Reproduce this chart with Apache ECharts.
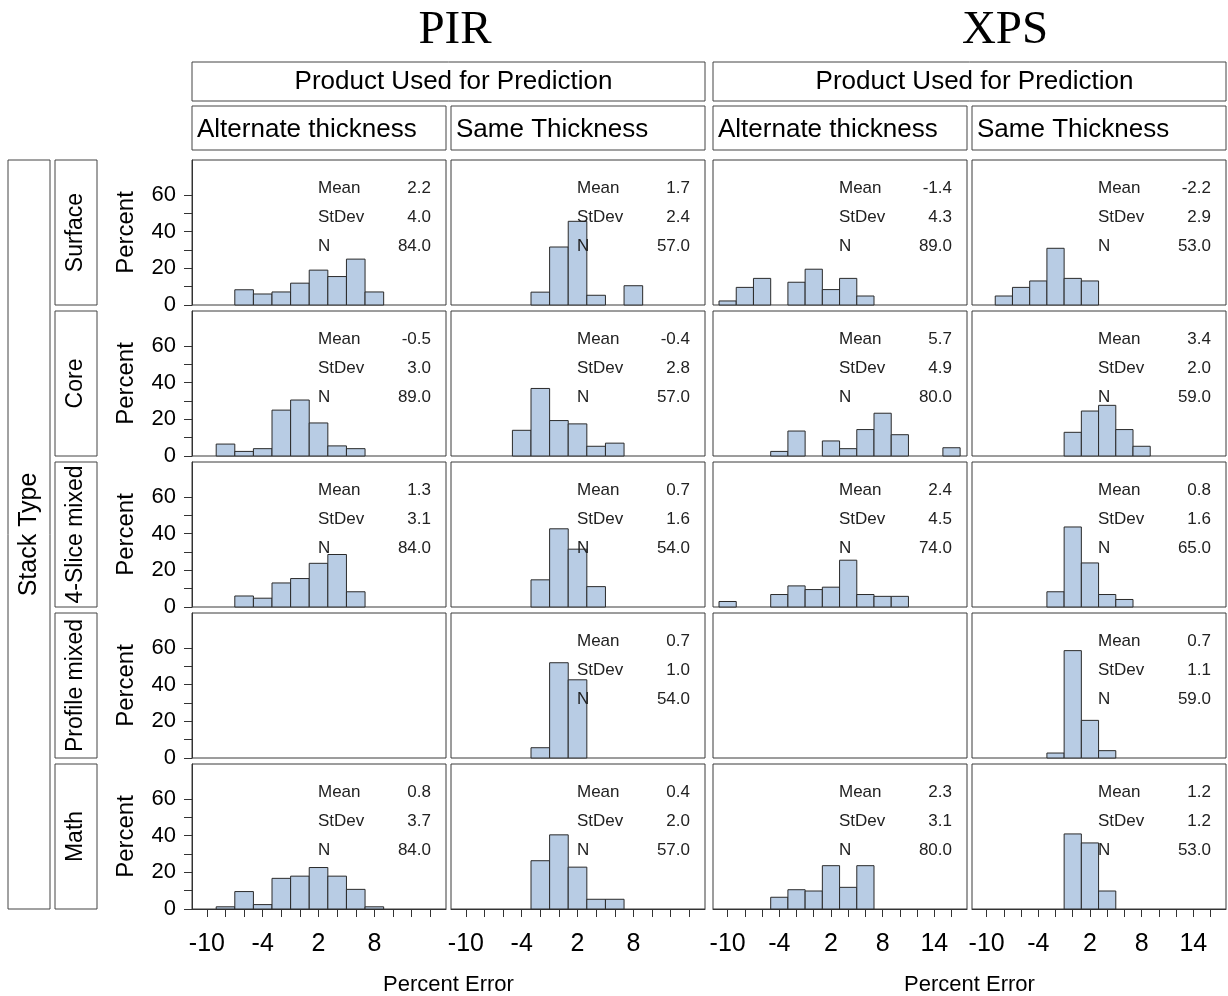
<!DOCTYPE html>
<html>
<head>
<meta charset="utf-8">
<script src="https://cdn.jsdelivr.net/npm/echarts@6/dist/echarts.min.js"></script>
<style>
  html, body { margin: 0; padding: 0; background: #fff; }
  #chart { width: 1228px; height: 996px; }
</style>
</head>
<body>
<div id="chart"></div>
<script>
// facets
const groups = ['PIR', 'XPS']
const products = ['Alternate thickness', 'Same Thickness']
const stackTypes = ['Surface', 'Core', '4-Slice mixed', 'Profile mixed', 'Math']

// histogram bin midpoints (percent error) and bar heights (percent), one list per stack type
const pirAltBins = [[-6, -4, -2, 0, 2, 4, 6, 8], [-8, -6, -4, -2, 0, 2, 4, 6], [-6, -4, -2, 0, 2, 4, 6], [], [-8, -6, -4, -2, 0, 2, 4, 6, 8]]
const pirAltPct = [[8.3, 6.0, 7.1, 11.9, 19.0, 15.5, 25.0, 7.1], [6.5, 2.5, 4.0, 25.0, 30.5, 18.0, 5.5, 4.0], [6.0, 4.8, 13.1, 15.5, 23.8, 28.6, 8.3], [], [1.2, 9.5, 2.4, 16.7, 17.9, 22.6, 17.9, 10.7, 1.2]]

const pirSameBins = [[-2, 0, 2, 4, 8], [-4, -2, 0, 2, 4, 6], [-2, 0, 2, 4], [-2, 0, 2], [-2, 0, 2, 4, 6]]
const pirSamePct = [[7.0, 31.6, 45.6, 5.3, 10.5], [14.0, 36.8, 19.3, 17.5, 5.3, 7.0], [14.8, 42.6, 31.5, 11.1], [5.6, 51.9, 42.6], [26.3, 40.4, 22.8, 5.3, 5.3]]

const xpsAltBins = [[-10, -8, -6, -2, 0, 2, 4, 6], [-4, -2, 2, 4, 6, 8, 10, 16], [-10, -4, -2, 0, 2, 4, 6, 8, 10], [], [-4, -2, 0, 2, 4, 6]]
const xpsAltPct = [[2.2, 9.6, 14.5, 12.4, 19.5, 8.4, 14.5, 4.9], [2.5, 13.6, 8.2, 4.0, 14.4, 23.3, 11.6, 4.5], [3.0, 6.8, 11.5, 9.5, 10.8, 25.5, 6.8, 5.8, 5.8], [], [6.4, 10.5, 9.8, 23.6, 11.8, 23.6]]

const xpsSameBins = [[-8, -6, -4, -2, 0, 2], [0, 2, 4, 6, 8], [-2, 0, 2, 4, 6], [-2, 0, 2, 4], [0, 2, 4]]
const xpsSamePct = [[4.9, 9.6, 13.1, 30.9, 14.5, 13.1], [12.9, 24.5, 27.6, 14.4, 5.3], [8.3, 43.6, 24.0, 6.8, 4.1], [2.7, 58.5, 20.5, 4.0], [40.9, 36.0, 9.8]]

// inset statistics (null = empty panel)
const pirAltStats = [['2.2', '4.0', '84.0'], ['-0.5', '3.0', '89.0'], ['1.3', '3.1', '84.0'], null, ['0.8', '3.7', '84.0']]
const pirSameStats = [['1.7', '2.4', '57.0'], ['-0.4', '2.8', '57.0'], ['0.7', '1.6', '54.0'], ['0.7', '1.0', '54.0'], ['0.4', '2.0', '57.0']]
const xpsAltStats = [['-1.4', '4.3', '89.0'], ['5.7', '4.9', '80.0'], ['2.4', '4.5', '74.0'], null, ['2.3', '3.1', '80.0']]
const xpsSameStats = [['-2.2', '2.9', '53.0'], ['3.4', '2.0', '59.0'], ['0.8', '1.6', '65.0'], ['0.7', '1.1', '59.0'], ['1.2', '1.2', '53.0']]
const statNames = ['Mean', 'StDev', 'N']

// axis ticks
const pirTicks = [-10, -8, -6, -4, -2, 0, 2, 4, 6, 8, 10, 12, 14]
const pirTickLabels = [-10, -4, 2, 8]
const xpsTicks = [-10, -8, -6, -4, -2, 0, 2, 4, 6, 8, 10, 12, 14, 16]
const xpsTickLabels = [-10, -4, 2, 8, 14]
const yTicks = [0, 10, 20, 30, 40, 50, 60]
const yTickLabels = [0, 20, 40, 60]

const columns = [
  { bins: pirAltBins, pct: pirAltPct, stats: pirAltStats, ticks: pirTicks, labels: pirTickLabels, min: -11.6, max: 15.7 },
  { bins: pirSameBins, pct: pirSamePct, stats: pirSameStats, ticks: pirTicks, labels: pirTickLabels, min: -11.6, max: 15.7 },
  { bins: xpsAltBins, pct: xpsAltPct, stats: xpsAltStats, ticks: xpsTicks, labels: xpsTickLabels, min: -11.7, max: 17.8 },
  { bins: xpsSameBins, pct: xpsSamePct, stats: xpsSameStats, ticks: xpsTicks, labels: xpsTickLabels, min: -11.7, max: 17.8 }
]

// layout
const FONT = '"Liberation Sans", Arial, sans-serif'
const colLeft = [192, 451, 713, 972]
const colW = 254
const rowTop = [160, 311, 462, 613, 764]
const rowH = 145
const titleX = [455, 1005]
const binWidth = 2
const ink = '#333'

function renderBar (params, api) {
  let mid = api.value(0)
  let pct = api.value(1)
  let p0 = api.coord([mid - binWidth / 2, pct])
  let p1 = api.coord([mid + binWidth / 2, 0])
  return {
    type: 'rect',
    shape: { x: p0[0], y: p0[1], width: p1[0] - p0[0], height: p1[1] - p0[1] },
    style: { fill: '#b8cce4', stroke: '#2a2a2a', lineWidth: 1 }
  }
}

let grid = []
let xAxis = []
let yAxis = []
let series = []
let graphic = []

function text (x, y, str, size, opts) {
  opts = opts || {}
  return {
    type: 'text',
    x: x,
    y: y,
    rotation: opts.rotation || 0,
    z: 100,
    style: {
      text: str,
      x: 0,
      y: 0,
      font: (opts.font || (size + 'px ' + FONT)),
      fill: opts.color || '#000',
      align: opts.align || 'center',
      verticalAlign: 'middle',
      textAlign: opts.align || 'center',
      textVerticalAlign: 'middle'
    }
  }
}

function box (x, y, w, h) {
  return {
    type: 'rect',
    z: 90,
    shape: { x: x, y: y, width: w, height: h },
    style: { fill: 'none', stroke: '#444', lineWidth: 1 }
  }
}

stackTypes.forEach((st, r) => {
  columns.forEach((col, c) => {
    let idx = r * 4 + c
    grid.push({
      left: colLeft[c],
      top: rowTop[r],
      width: colW,
      height: rowH,
      show: true,
      borderColor: '#3a3a3a',
      borderWidth: 1
    })
    xAxis.push({
      type: 'value',
      gridIndex: idx,
      min: col.min,
      max: col.max,
      show: r === stackTypes.length - 1,
      axisLine: { show: true, onZero: false, lineStyle: { color: ink } },
      axisTick: { show: true, length: 8, customValues: col.ticks, lineStyle: { color: ink } },
      axisLabel: { customValues: col.labels, fontSize: 25, fontFamily: FONT, color: '#000', margin: 23 },
      splitLine: { show: false }
    })
    yAxis.push({
      type: 'value',
      gridIndex: idx,
      min: 0,
      max: 79,
      show: c === 0,
      name: 'Percent',
      nameLocation: 'middle',
      nameGap: 54,
      nameTextStyle: { fontSize: 24, fontFamily: FONT, color: '#000' },
      axisLine: { show: true, onZero: false, lineStyle: { color: ink } },
      axisTick: { show: true, length: 8, customValues: yTicks, lineStyle: { color: ink } },
      axisLabel: { customValues: yTickLabels, fontSize: 22, fontFamily: FONT, color: '#000', margin: 16 },
      splitLine: { show: false }
    })
    series.push({
      type: 'custom',
      xAxisIndex: idx,
      yAxisIndex: idx,
      renderItem: renderBar,
      data: col.bins[r].map((b, i) => [b, col.pct[r][i]])
    })
    let st3 = col.stats[r]
    if (st3) {
      statNames.forEach((nm, k) => {
        let y = rowTop[r] + 28 + k * 29
        graphic.push(text(colLeft[c] + 126, y, nm, 17, { align: 'left', color: '#222' }))
        graphic.push(text(colLeft[c] + 239, y, st3[k], 17, { align: 'right', color: '#222' }))
      })
    }
  })
  // row strip
  graphic.push(box(55, rowTop[r], 42, rowH))
  graphic.push(text(76, rowTop[r] + rowH / 2, st, 23, { rotation: Math.PI / 2 }))
})

// column strips and titles
groups.forEach((g, gi) => {
  let left = colLeft[gi * 2]
  let right = colLeft[gi * 2 + 1] + colW
  let mid = (left + right) / 2
  graphic.push(text(titleX[gi], 31, g, 47, { font: '47px "Liberation Serif", "Times New Roman", serif' }))
  graphic.push(box(left, 62, right - left, 39))
  graphic.push(text(mid + 5, 82, 'Product Used for Prediction', 26))
  products.forEach((p, pi) => {
    let cl = colLeft[gi * 2 + pi]
    graphic.push(box(cl, 106, colW, 44))
    graphic.push(text(cl + 5, 130, p, 26, { align: 'left' }))
  })
  graphic.push(text(mid, 985, 'Percent Error', 22))
})

graphic.push(box(8, rowTop[0], 42, rowTop[4] + rowH - rowTop[0]))
graphic.push(text(29, (rowTop[0] + rowTop[4] + rowH) / 2, 'Stack Type', 25, { rotation: Math.PI / 2 }))

let option = {
  animation: false,
  backgroundColor: '#fff',
  grid: grid,
  xAxis: xAxis,
  yAxis: yAxis,
  series: series,
  graphic: graphic
}

let chart = echarts.init(document.getElementById('chart'))
chart.setOption(option)
</script>
</body>
</html>
